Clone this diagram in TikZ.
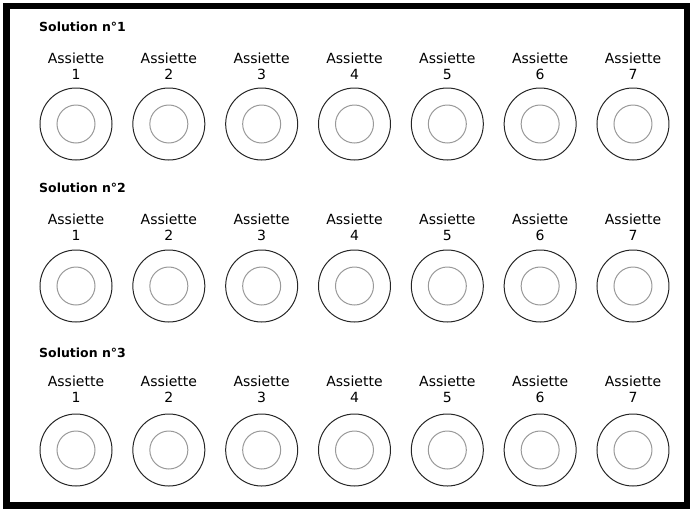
\documentclass[tikz,border=0pt]{standalone}
\usepackage{fontspec}
\setmainfont{DejaVu Sans}
\begin{document}
\begin{tikzpicture}[x=1pt,y=-1pt,
    plate/.style={circle,draw=black!85,line width=1pt,minimum size=72pt,inner sep=0pt},
    hollow/.style={circle,draw=black!40,line width=1pt,minimum size=38pt,inner sep=0pt},
    tag/.style={anchor=north,align=center,font=\fontsize{14}{16.5}\selectfont,inner sep=0pt},
    title/.style={anchor=west,font=\fontsize{12.5}{15}\selectfont\bfseries,inner sep=0pt}]
        \useasboundingbox (0,0) rectangle (690,509);
        % cadre
        \draw[line width=6.5pt] (6.5,6) rectangle (687.5,505.5);

        % trois solutions, sept assiettes chacune
        \foreach \r/\py/\ty/\sy in {1/124/52.5/27, 2/286/213.5/188, 3/450/375.5/353} {
            \node[title] (sol\r) at (39,\sy) {Solution n°\r};
            \foreach \i in {1,...,7} {
                \pgfmathsetmacro{\px}{76+92.83*(\i-1)}
                \node[tag] (t\r-\i) at (\px,\ty) {Assiette\\\i};
                \node[plate] (p\r-\i) at (\px,\py) {};
                \node[hollow] (c\r-\i) at (p\r-\i.center) {};
            }
        }
    \end{tikzpicture}
\end{document}
